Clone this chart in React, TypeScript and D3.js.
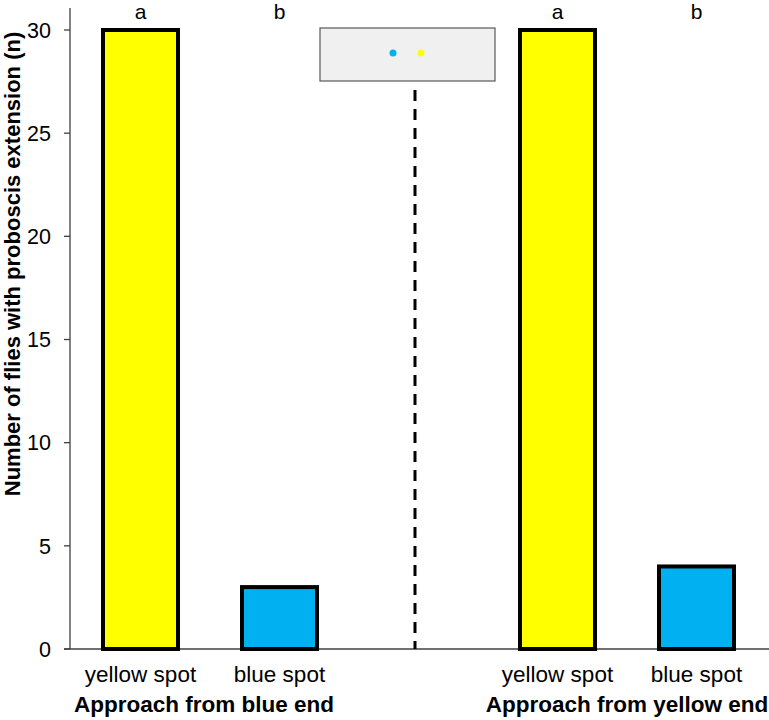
import React from "react";
import * as d3 from "d3";

const slots = ["g1-yellow", "g1-blue", "gap", "g2-yellow", "g2-blue"];
const barKeys = ["g1-yellow", "g1-blue", "g2-yellow", "g2-blue"];
const categories = ["yellow spot", "blue spot", "yellow spot", "blue spot"];
const values = [30, 3, 30, 4];
const letters = ["a", "b", "a", "b"];
const colors = ["#ffff00", "#00b0f0", "#ffff00", "#00b0f0"];
const groups = ["Approach from blue end", "Approach from yellow end"];
const groupMembers = [["g1-yellow", "g1-blue"], ["g2-yellow", "g2-blue"]];
const yTicks = [0, 5, 10, 15, 20, 25, 30];

const W = 769;
const H = 720;
const FONT = "'Liberation Sans', Arial, sans-serif";

export default function App() {
  const x = d3.scalePoint<string>().domain(slots).range([140.5, 696.5]);
  const y = d3.scaleLinear().domain([0, 30]).range([649, 30]);
  const barW = 75;
  const axisX = 70;
  const dividerX = 415;

  return (
    <svg
      width={W}
      height={H}
      style={{ position: "absolute", left: 0, top: 0, background: "#fff" }}
      fontFamily={FONT}
    >
      {/* y axis */}
      <line x1={axisX} x2={axisX} y1={8} y2={y(0)} stroke="#404040" strokeWidth={1.3} />
      {yTicks.map((t) => (
        <g key={t}>
          <line x1={axisX - 6} x2={axisX} y1={y(t)} y2={y(t)} stroke="#404040" strokeWidth={1.3} />
          <text x={51} y={y(t)} dy="0.36em" textAnchor="end" fontSize={21.5} fill="#000">
            {t}
          </text>
        </g>
      ))}
      {/* x axis */}
      <line x1={axisX - 6} x2={W} y1={y(0)} y2={y(0)} stroke="#404040" strokeWidth={1.3} />

      {/* y title */}
      <text
        transform={`translate(19.5, 264) rotate(-90)`}
        textAnchor="middle"
        fontSize={22}
        fontWeight="bold"
        fill="#000"
      >
        Number of flies with proboscis extension (n)
      </text>

      {/* bars */}
      {barKeys.map((k, i) => {
        const cx = x(k) as number;
        return (
          <g key={k}>
            <rect
              x={cx - barW / 2}
              y={y(values[i])}
              width={barW}
              height={y(0) - y(values[i])}
              fill={colors[i]}
              stroke="#000"
              strokeWidth={4}
            />
            <text x={cx} y={18.5} textAnchor="middle" fontSize={21} fill="#000">
              {letters[i]}
            </text>
            <text x={cx} y={682} textAnchor="middle" fontSize={22.5} fill="#000">
              {categories[i]}
            </text>
          </g>
        );
      })}

      {/* group labels */}
      {groups.map((g, gi) => {
        const cx = d3.mean(groupMembers[gi].map((k) => x(k) as number)) as number;
        return (
          <text key={g} x={cx - (gi === 0 ? 6 : 0)} y={712} textAnchor="middle" fontSize={22.5} fontWeight="bold" fill="#000">
            {g}
          </text>
        );
      })}

      {/* divider */}
      <line
        x1={dividerX}
        x2={dividerX}
        y1={90}
        y2={y(0)}
        stroke="#000"
        strokeWidth={3}
        strokeDasharray="11 8"
      />

      {/* inset arena */}
      <rect x={320} y={28} width={175} height={53} fill="#f0f0f0" stroke="#595959" strokeWidth={1.2} />
      <circle cx={393} cy={53} r={3.5} fill="#00b0f0" />
      <circle cx={421} cy={53} r={3.5} fill="#ffff00" />
    </svg>
  );
}
